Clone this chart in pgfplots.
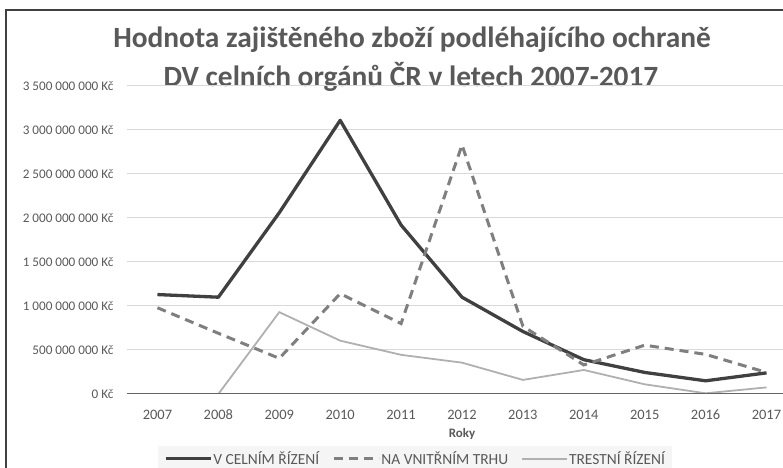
\documentclass[border=0pt]{standalone}
\usepackage{pgfplots}
\pgfplotsset{compat=1.18}
\usepackage{fontspec}
\setmainfont{Carlito}
\definecolor{txt}{HTML}{595959}
\definecolor{gridc}{HTML}{D9D9D9}
\definecolor{s1}{HTML}{404040}
\definecolor{s2}{HTML}{7F7F7F}
\definecolor{s3}{HTML}{B0B0B0}
\begin{document}
\begin{tikzpicture}[x=1bp,y=1bp]
\useasboundingbox (0,0) rectangle (783,468);
\clip (0,0) rectangle (783,468);
\draw[s1, line width=1.5bp] (6,-10) -- (6,458) -- (900,458);
\node[text=txt, font=\bfseries\fontsize{29.5}{34}\selectfont, align=center] at (412,428) {Hodnota zajištěného zboží podléhajícího ochraně};
\node[text=txt, font=\bfseries\fontsize{29.5}{34}\selectfont, align=center] at (411,391) {DV celních orgánů ČR v letech 2007-2017};
\begin{axis}[
  at={(127bp,74bp)}, anchor=south west,
  scale only axis, width=670bp, height=308bp,
  xmin=2006.5, xmax=2017.5, ymin=0, ymax=3500,
  axis line style={draw=none},
  xtick={2007,...,2017},
  xticklabels={2007,2008,2009,2010,2011,2012,2013,2014,2015,2016,2017},
  ytick={0,500,...,3500},
  yticklabels={0 Kč,500 000 000 Kč,1 000 000 000 Kč,1 500 000 000 Kč,2 000 000 000 Kč,2 500 000 000 Kč,3 000 000 000 Kč,3 500 000 000 Kč},
  major tick length=0pt,
  xmajorgrids=false, ymajorgrids=true,
  major grid style={draw=gridc, line width=1bp},
  yticklabel style={font=\fontsize{13.2}{16}\selectfont, text=txt, anchor=east, xshift=-10bp},
  xticklabel style={font=\fontsize{14.5}{16}\selectfont, text=txt, anchor=north, yshift=-12bp, text height=10bp, text depth=0bp},
  xlabel={\textbf{Roky}}, xlabel style={font=\fontsize{13}{15}\selectfont, text=txt, anchor=north, at={(0.5,0)}, yshift=-31bp},
  legend style={at={(0.43,-0.21)}, anchor=center, legend columns=3, draw=none, fill=black!4,
     font=\fontsize{15.5}{17}\selectfont, text=txt, nodes={inner xsep=1bp},
     /tikz/every even column/.append style={column sep=12bp}, inner xsep=6bp, inner ysep=3bp},
  legend image code/.code={\draw[#1] (0bp,0bp) -- (45bp,0bp);},
  legend cell align=left,
]
\addplot[s1, line width=3.3bp, line join=round] coordinates {(2007,1130)(2008,1100)(2009,2060)(2010,3110)(2011,1920)(2012,1100)(2013,710)(2014,390)(2015,245)(2016,150)(2017,240)};
\addplot[s2, line width=3bp, dash pattern=on 9bp off 6bp] coordinates {(2007,980)(2008,690)(2009,405)(2010,1140)(2011,800)(2012,2830)(2013,770)(2014,330)(2015,555)(2016,450)(2017,245)};
\addplot[s3, line width=1.8bp] coordinates {(2007,0)(2008,0)(2009,930)(2010,606)(2011,445)(2012,356)(2013,160)(2014,273)(2015,110)(2016,8)(2017,75)};
\draw[s2!80!black, line width=1.5bp] (axis cs:2006.5,0) -- (axis cs:2017.5,0);
\legend{V CELNÍM ŘÍZENÍ,NA VNITŘNÍM TRHU,TRESTNÍ ŘÍZENÍ}
\end{axis}
\end{tikzpicture}
\end{document}
